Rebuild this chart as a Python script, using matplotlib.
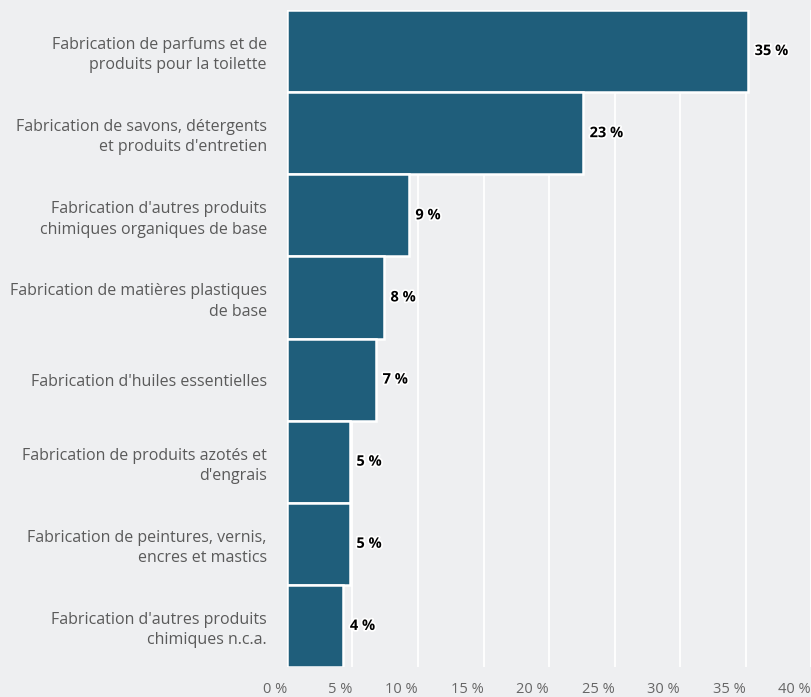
import matplotlib.pyplot as plt
import matplotlib.patheffects as pe

categories = [
    "Fabrication de parfums et de\nproduits pour la toilette",
    "Fabrication de savons, détergents\net produits d'entretien",
    "Fabrication d'autres produits\nchimiques organiques de base",
    "Fabrication de matières plastiques\nde base",
    "Fabrication d'huiles essentielles",
    "Fabrication de produits azotés et\nd'engrais",
    "Fabrication de peintures, vernis,\nencres et mastics",
    "Fabrication d'autres produits\nchimiques n.c.a.",
]
values = [35.2, 22.6, 9.3, 7.4, 6.8, 4.8, 4.8, 4.3]
value_labels = ["35 %", "23 %", "9 %", "8 %", "7 %", "5 %", "5 %", "4 %"]
x_ticks = [0, 5, 10, 15, 20, 25, 30, 35, 40]

bg = "#eeeff1"
bar_color = "#1f5e7b"
plt.rcParams["font.family"] = ["Open Sans", "DejaVu Sans"]

fig = plt.figure(figsize=(8.12, 6.97), dpi=100, facecolor=bg)
ax = fig.add_axes([287 / 812, 30 / 697, 524 / 812, 657 / 697])
ax.set_facecolor(bg)

pos = list(range(len(categories)))
ax.barh(pos, values, height=1.0, color=bar_color, edgecolor="white",
        linewidth=1.8, zorder=3)

for y, v, lab in zip(pos, values, value_labels):
    ax.text(v + 0.5, y, lab, va="center", ha="left", fontsize=10.5,
            fontweight="bold", color="black", zorder=4,
            path_effects=[pe.withStroke(linewidth=2.5, foreground="white")])

ax.set_xlim(0, 40)
ax.set_ylim(len(categories) - 0.5, -0.5)
ax.set_xticks(x_ticks)
ax.set_xticklabels([f"{t} %" for t in x_ticks], ha="right")
ax.set_yticks(pos)
ax.set_yticklabels(categories, fontsize=11.5, color="#5a5a5a", linespacing=1.35)
ax.tick_params(axis="x", length=0, pad=11, labelsize=10.5, labelcolor="#666666")
ax.tick_params(axis="y", length=0, pad=14.5)
ax.grid(axis="x", color="white", linewidth=1.3, zorder=0)
ax.set_axisbelow(True)
for s in ax.spines.values():
    s.set_visible(False)

fig.savefig("out.png", dpi=100, facecolor=bg)
